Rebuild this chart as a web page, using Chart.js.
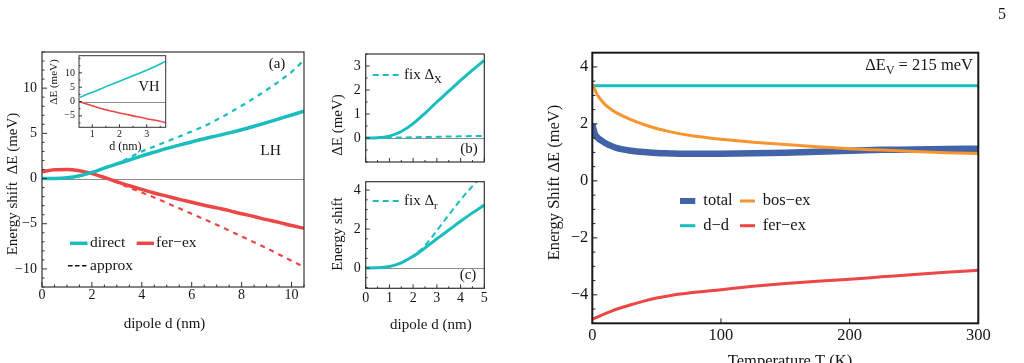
<!DOCTYPE html>
<html><head><meta charset="utf-8">
<script src="https://cdn.jsdelivr.net/npm/chart.js@4.4.1/dist/chart.umd.min.js"></script>
<style>
html,body{margin:0;padding:0;background:#fff;overflow:hidden;width:1024px;height:363px}
canvas{position:absolute;left:0;top:0}
</style></head><body>
<canvas id="ca" width="1024" height="363"></canvas>
<canvas id="ci" width="1024" height="363"></canvas>
<canvas id="cb" width="1024" height="363"></canvas>
<canvas id="cc" width="1024" height="363"></canvas>
<canvas id="cd" width="1024" height="363"></canvas>
<script>
// ---------- data: panel (a), LH ----------
const dA = [0,0.5,1,1.5,2,2.5,3,3.5,4,4.5,5,5.5,6,6.5,7,7.5,8,8.5,9,9.5,10,10.5];
const directLH = [0,0.01,0.08,0.3,0.68,1.15,1.62,2.05,2.5,2.92,3.33,3.7,4.05,4.4,4.72,5.05,5.4,5.78,6.18,6.6,7.03,7.45];
const ferexLH = [0.77,0.97,1.0,0.86,0.55,0.12,-0.35,-0.8,-1.2,-1.6,-1.95,-2.3,-2.62,-2.95,-3.25,-3.55,-3.9,-4.2,-4.55,-4.85,-5.2,-5.5];
const dApprox = [2.5,3,3.5,4,4.5,5,5.5,6,6.5,7,7.5,8,8.5,9,9.5,10,10.5];
const directApprox = [1.15,1.65,2.3,3.0,3.55,4.1,4.65,5.2,5.8,6.5,7.25,8.05,8.9,9.8,10.75,11.8,13.1];
const ferexApprox = [0.12,-0.45,-1.0,-1.55,-2.1,-2.7,-3.3,-3.9,-4.5,-5.1,-5.75,-6.4,-7.05,-7.7,-8.4,-9.1,-9.8];
const aXTicks = [0,2,4,6,8,10];
const aYTicks = [-10,-5,0,5,10];
// ---------- inset, VH ----------
const dVH = [0.55,1,1.5,2,2.5,3,3.5,3.7];
const directVH = [1.5,3.2,5.2,7.1,9.0,10.9,13.1,14.1];
const ferexVH = [-0.2,-1.5,-2.9,-4.0,-5.0,-6.0,-6.9,-7.4];
const iXTicks = [1,2,3];
const iYTicks = [-5,0,5,10];
// ---------- panels (b), (c) ----------
const dBC = [0,0.5,1,1.5,2,2.5,3,3.5,4,4.5,5];
const directBC = [0,0.01,0.08,0.27,0.6,1.03,1.5,1.95,2.4,2.83,3.23];
const fixDx = [0,0.003,0.01,0.02,0.03,0.04,0.05,0.06,0.07,0.08,0.09];
const dFixR = [1.5,2,2.5,3,3.5,4,4.5,5];
const fixDr = [0.27,0.62,1.15,1.92,2.72,3.5,4.2,4.85];
const bYTicks = [0,1,2,3];
const cYTicks = [0,2,4];
const cXTicks = [0,1,2,3,4,5];
// ---------- panel (d) ----------
const tempT = [0,1,2,3,5,7,10,15,20,30,40,50,60,75,100,125,150,175,200,225,250,275,300];
const totalT = [2.0,1.8,1.65,1.57,1.48,1.42,1.33,1.22,1.14,1.06,1.01,0.98,0.965,0.95,0.955,0.97,0.99,1.02,1.06,1.09,1.1,1.12,1.13];
const ddT = [3.34,3.34,3.34,3.34,3.34,3.34,3.34,3.34,3.34,3.34,3.34,3.34,3.34,3.34,3.34,3.34,3.34,3.34,3.34,3.34,3.34,3.34,3.34];
const bosexT = [3.36,3.3,3.2,3.1,2.95,2.83,2.68,2.5,2.36,2.15,1.98,1.84,1.73,1.6,1.46,1.36,1.28,1.2,1.13,1.08,1.03,0.99,0.96];
const ferexT = [-4.86,-4.84,-4.82,-4.8,-4.76,-4.72,-4.66,-4.57,-4.49,-4.35,-4.22,-4.11,-4.03,-3.94,-3.82,-3.7,-3.6,-3.52,-3.45,-3.37,-3.29,-3.21,-3.14];
const dXTicks = [0,100,200,300];
const dYTicks = [-4,-2,0,2,4];

// ---------- styling ----------
const CY = '#19bcbf', RD = '#ec4646', OR = '#f9952f', BL = '#4363a8';
const SERIF = '"Liberation Serif", "Times New Roman", serif';
const W = 1024, H = 363;
const xy = (xs, ys) => xs.map((x, i) => ({x, y: ys[i]}));
const fmt = v => (v < 0 ? '\u2212' + Math.abs(v) : String(v));

function line(label, xs, ys, color, width, dash) {
  return {label, data: xy(xs, ys), borderColor: color, backgroundColor: color,
    borderWidth: width, borderDash: dash || [], pointRadius: 0, fill: false,
    cubicInterpolationMode: 'monotone', borderCapStyle: 'butt', clip: 0};
}

function scales(p) {
  return {
    x: {type: 'linear', position: 'bottom', min: p.xmin, max: p.xmax,
      grid: {display: false, drawTicks: false}, border: {display: false},
      ticks: {display: !!p.xshow, autoSkip: false, maxRotation: 0, minRotation: 0,
        padding: p.xpad || 0, color: '#161616', font: {family: SERIF, size: p.fs}, callback: fmt},
      afterBuildTicks: s => { s.ticks = p.xt.map(v => ({value: v})); },
      afterFit: s => { s.height = H - p.B; s.paddingLeft = 0; s.paddingRight = 0; }
    },
    y: {type: 'linear', position: 'left', min: p.ymin, max: p.ymax,
      grid: {display: false, drawTicks: false}, border: {display: false},
      ticks: {display: true, autoSkip: false, padding: p.ypad || 5, color: '#161616',
        font: {family: SERIF, size: p.fs}, callback: fmt},
      afterBuildTicks: s => { s.ticks = p.yt.map(v => ({value: v})); },
      afterFit: s => { s.width = p.L; s.paddingTop = 0; s.paddingBottom = 0; }
    }
  };
}

const framePlugin = {
  id: 'frame',
  beforeDatasetsDraw(chart, args, o) {
    const {ctx, chartArea: a} = chart;
    ctx.save();
    if (o.fill) { ctx.fillStyle = '#fff'; ctx.fillRect(a.left, a.top, a.right - a.left, a.bottom - a.top); }
    if (o.zero) {
      const y = Math.round(chart.scales.y.getPixelForValue(0)) + 0.5;
      ctx.strokeStyle = '#8c8c8c'; ctx.lineWidth = 1;
      ctx.beginPath(); ctx.moveTo(a.left, y); ctx.lineTo(a.right, y); ctx.stroke();
    }
    ctx.restore();
  },
  afterDraw(chart, args, o) {
    const {ctx, chartArea: a, scales: {x, y}} = chart;
    ctx.save();
    ctx.strokeStyle = o.color || '#333';
    ctx.lineWidth = 1;
    ctx.beginPath();
    const isMaj = (arr, v) => arr.some(m => Math.abs(m - v) < 1e-6);
    o.xt.forEach(v => { const px = x.getPixelForValue(v); ctx.moveTo(px, a.bottom); ctx.lineTo(px, a.bottom - o.maj); });
    if (o.xm) for (let v = Math.ceil(x.min / o.xm) * o.xm; v <= x.max + 1e-9; v += o.xm) {
      if (isMaj(o.xt, v)) continue;
      const px = x.getPixelForValue(v); ctx.moveTo(px, a.bottom); ctx.lineTo(px, a.bottom - o.min);
    }
    o.yt.forEach(v => { const py = y.getPixelForValue(v); ctx.moveTo(a.left, py); ctx.lineTo(a.left + o.maj, py); });
    if (o.ym) for (let v = Math.ceil(y.min / o.ym) * o.ym; v <= y.max + 1e-9; v += o.ym) {
      if (isMaj(o.yt, v)) continue;
      const py = y.getPixelForValue(v); ctx.moveTo(a.left, py); ctx.lineTo(a.left + o.min, py);
    }
    ctx.stroke();
    ctx.lineWidth = o.lw || 1;
    ctx.strokeRect(a.left, a.top, a.right - a.left, a.bottom - a.top);
    ctx.restore();
  }
};

function drawText(ctx, it) {
  const fs = it.size || 15;
  const parts = it.parts || [{t: it.t}];
  let w = 0;
  const ws = parts.map(p => { ctx.font = (p.sub ? fs * 0.72 : fs) + 'px ' + SERIF; const m = ctx.measureText(p.t).width; w += m; return m; });
  ctx.save();
  ctx.translate(it.x, it.y);
  if (it.rot) ctx.rotate(it.rot);
  let x0 = it.align === 'right' ? -w : it.align === 'left' ? 0 : -w / 2;
  ctx.fillStyle = it.color || '#161616';
  ctx.textBaseline = 'middle'; ctx.textAlign = 'left';
  parts.forEach((p, i) => {
    ctx.font = (p.sub ? fs * 0.72 : fs) + 'px ' + SERIF;
    ctx.fillText(p.t, x0, p.sub ? fs * 0.32 : 0);
    x0 += ws[i];
  });
  ctx.restore();
}

const notesPlugin = {
  id: 'notes',
  afterDraw(chart, args, o) { (o.items || []).forEach(it => drawText(chart.ctx, it)); }
};

const keysPlugin = {
  id: 'keys',
  afterDraw(chart, args, o) {
    const ctx = chart.ctx;
    (o.items || []).forEach(k => {
      const ds = k.ds !== undefined ? chart.data.datasets[k.ds] : null;
      ctx.save();
      ctx.strokeStyle = k.color || ds.borderColor;
      ctx.lineWidth = k.w;
      ctx.setLineDash(k.dash || []);
      ctx.beginPath(); ctx.moveTo(k.x1, k.y); ctx.lineTo(k.x2, k.y); ctx.stroke();
      ctx.restore();
      drawText(ctx, {parts: k.parts, t: k.t || (ds && ds.label), x: k.tx, y: k.y, size: k.size, align: 'left'});
    });
  }
};

function make(id, p, datasets, frame, notes, keys) {
  return new Chart(document.getElementById(id), {
    type: 'line',
    data: {datasets},
    options: {
      responsive: false, animation: false, devicePixelRatio: 1, events: [],
      layout: {padding: {left: 0, top: p.T, right: W - p.R, bottom: 0}},
      scales: scales(p),
      plugins: {legend: {display: false}, tooltip: {enabled: false},
        frame, notes: {items: notes || []}, keys: {items: keys || []}}
    },
    plugins: [framePlugin, notesPlugin, keysPlugin]
  });
}

// ---------- panel (a) ----------
make('ca',
  {L: 42, T: 52, R: 304, B: 287, xmin: 0, xmax: 10.5, ymin: -12, ymax: 14, xt: aXTicks, yt: aYTicks, fs: 14, xshow: true, xpad: 0, ypad: 5},
  [
    line('direct', dA, directLH, CY, 3.5),
    line('fer\u2212ex', dA, ferexLH, RD, 3.5),
    line('direct approx', dApprox, directApprox, CY, 2.2, [5, 5]),
    line('fer\u2212ex approx', dApprox, ferexApprox, RD, 2.2, [5, 5])
  ],
  {zero: true, color: '#333', lw: 1.2, maj: 5, min: 2.5, xt: aXTicks, yt: aYTicks, xm: 0.5, ym: 1},
  [
    {t: '(a)', x: 277, y: 64, size: 15},
    {t: 'LH', x: 270.5, y: 151, size: 15.5},
    {t: 'Energy shift  \u0394E (meV)', x: 13, y: 184, size: 15, rot: -Math.PI / 2},
    {t: 'dipole d (nm)', x: 164.5, y: 324, size: 15}
  ],
  [
    {ds: 0, x1: 70, x2: 87.5, y: 243.3, w: 3.5, tx: 90, size: 15.5},
    {ds: 1, x1: 136.7, x2: 154, y: 243.3, w: 3.5, tx: 156, size: 15.5},
    {color: '#111', t: 'approx', x1: 68, x2: 87.5, y: 265.7, w: 1.5, dash: [4.5, 2.5], tx: 90, size: 15.5}
  ]
);

// ---------- inset (VH) ----------
make('ci',
  {L: 79, T: 55.7, R: 165.7, B: 127.3, xmin: 0.51, xmax: 3.7, ymin: -9, ymax: 16, xt: iXTicks, yt: iYTicks, fs: 10, xshow: true, xpad: 1.5, ypad: 4},
  [
    line('direct VH', dVH, directVH, CY, 1.6),
    line('fer\u2212ex VH', dVH, ferexVH, RD, 1.6)
  ],
  {fill: true, zero: true, color: '#333', lw: 1, maj: 3, min: 1.5, xt: iXTicks, yt: iYTicks, xm: 0.5, ym: 2.5},
  [
    {t: 'VH', x: 149, y: 87, size: 14.5},
    {t: '\u0394E (meV)', x: 54.5, y: 82, size: 11, rot: -Math.PI / 2},
    {t: 'd (nm)', x: 125.3, y: 147, size: 12}
  ]
);

// ---------- panel (b) ----------
make('cb',
  {L: 365.7, T: 54, R: 484.3, B: 162, xmin: 0, xmax: 5, ymin: -1, ymax: 3.5, xt: cXTicks, yt: bYTicks, fs: 14, xshow: false, ypad: 5},
  [
    line('direct', dBC, directBC, CY, 3),
    line('fix \u0394X', dBC, fixDx, CY, 2, [6, 4])
  ],
  {zero: true, color: '#333', lw: 1.2, maj: 4, min: 2, xt: cXTicks, yt: bYTicks, xm: 0.5, ym: 0.5},
  [
    {t: '(b)', x: 469, y: 149, size: 15}
  ],
  [
    {ds: 1, parts: [{t: 'fix \u0394'}, {t: 'X', sub: true}], x1: 372.7, x2: 401.7, y: 75, w: 2, dash: [6, 4], tx: 404, size: 15}
  ]
);

// ---------- panel (c) ----------
make('cc',
  {L: 365.7, T: 181.7, R: 484.3, B: 288.3, xmin: 0, xmax: 5, ymin: -1.04, ymax: 4.43, xt: cXTicks, yt: cYTicks, fs: 14, xshow: true, xpad: 2, ypad: 5},
  [
    line('direct', dBC, directBC, CY, 3),
    line('fix \u0394r', dFixR, fixDr, CY, 2, [6, 4])
  ],
  {zero: true, color: '#333', lw: 1.2, maj: 4, min: 2, xt: cXTicks, yt: cYTicks, xm: 0.5, ym: 0.5},
  [
    {t: '(c)', x: 468, y: 275, size: 15},
    {t: '\u0394E (meV)', x: 338, y: 125, size: 15, rot: -Math.PI / 2},
    {t: 'Energy shift', x: 338, y: 234, size: 15, rot: -Math.PI / 2},
    {t: 'dipole d (nm)', x: 430.8, y: 325, size: 15}
  ],
  [
    {ds: 1, parts: [{t: 'fix \u0394'}, {t: 'r', sub: true}], x1: 372.7, x2: 401.7, y: 201, w: 2, dash: [6, 4], tx: 404, size: 15}
  ]
);

// ---------- panel (d) ----------
make('cd',
  {L: 592.3, T: 52.7, R: 978.3, B: 323.3, xmin: 0, xmax: 300, ymin: -5, ymax: 4.5, xt: dXTicks, yt: dYTicks, fs: 16.5, xshow: true, xpad: 2.8, ypad: 4},
  [
    line('bos\u2212ex', tempT, bosexT, OR, 3),
    line('total', tempT, totalT, BL, 6.5),
    line('d\u2212d', tempT, ddT, CY, 3),
    line('fer\u2212ex', tempT, ferexT, RD, 3)
  ],
  {zero: false, color: '#1a1a1a', lw: 2, maj: 5, min: 3, xt: dXTicks, yt: dYTicks, xm: null, ym: 0.5},
  [
    {parts: [{t: '\u0394E'}, {t: 'V', sub: true}, {t: ' = 215 meV'}], x: 973, y: 66, size: 16.5, align: 'right'},
    {t: 'Energy Shift \u0394E (meV)', x: 555, y: 182.5, size: 16.5, rot: -Math.PI / 2},
    {t: 'Temperature T (K)', x: 790, y: 362, size: 16.5},
    {t: '5', x: 1002, y: 15, size: 16}
  ],
  [
    {ds: 1, x1: 680, x2: 695.3, y: 201, w: 6, tx: 703.3, size: 16.5},
    {ds: 0, x1: 740, x2: 755, y: 201, w: 3, tx: 762.7, size: 16.5},
    {ds: 2, x1: 680, x2: 695.3, y: 225.7, w: 3, tx: 703.3, size: 16.5},
    {ds: 3, x1: 740, x2: 755, y: 225.7, w: 3, tx: 762.7, size: 16.5}
  ]
);
</script>
</body></html>
